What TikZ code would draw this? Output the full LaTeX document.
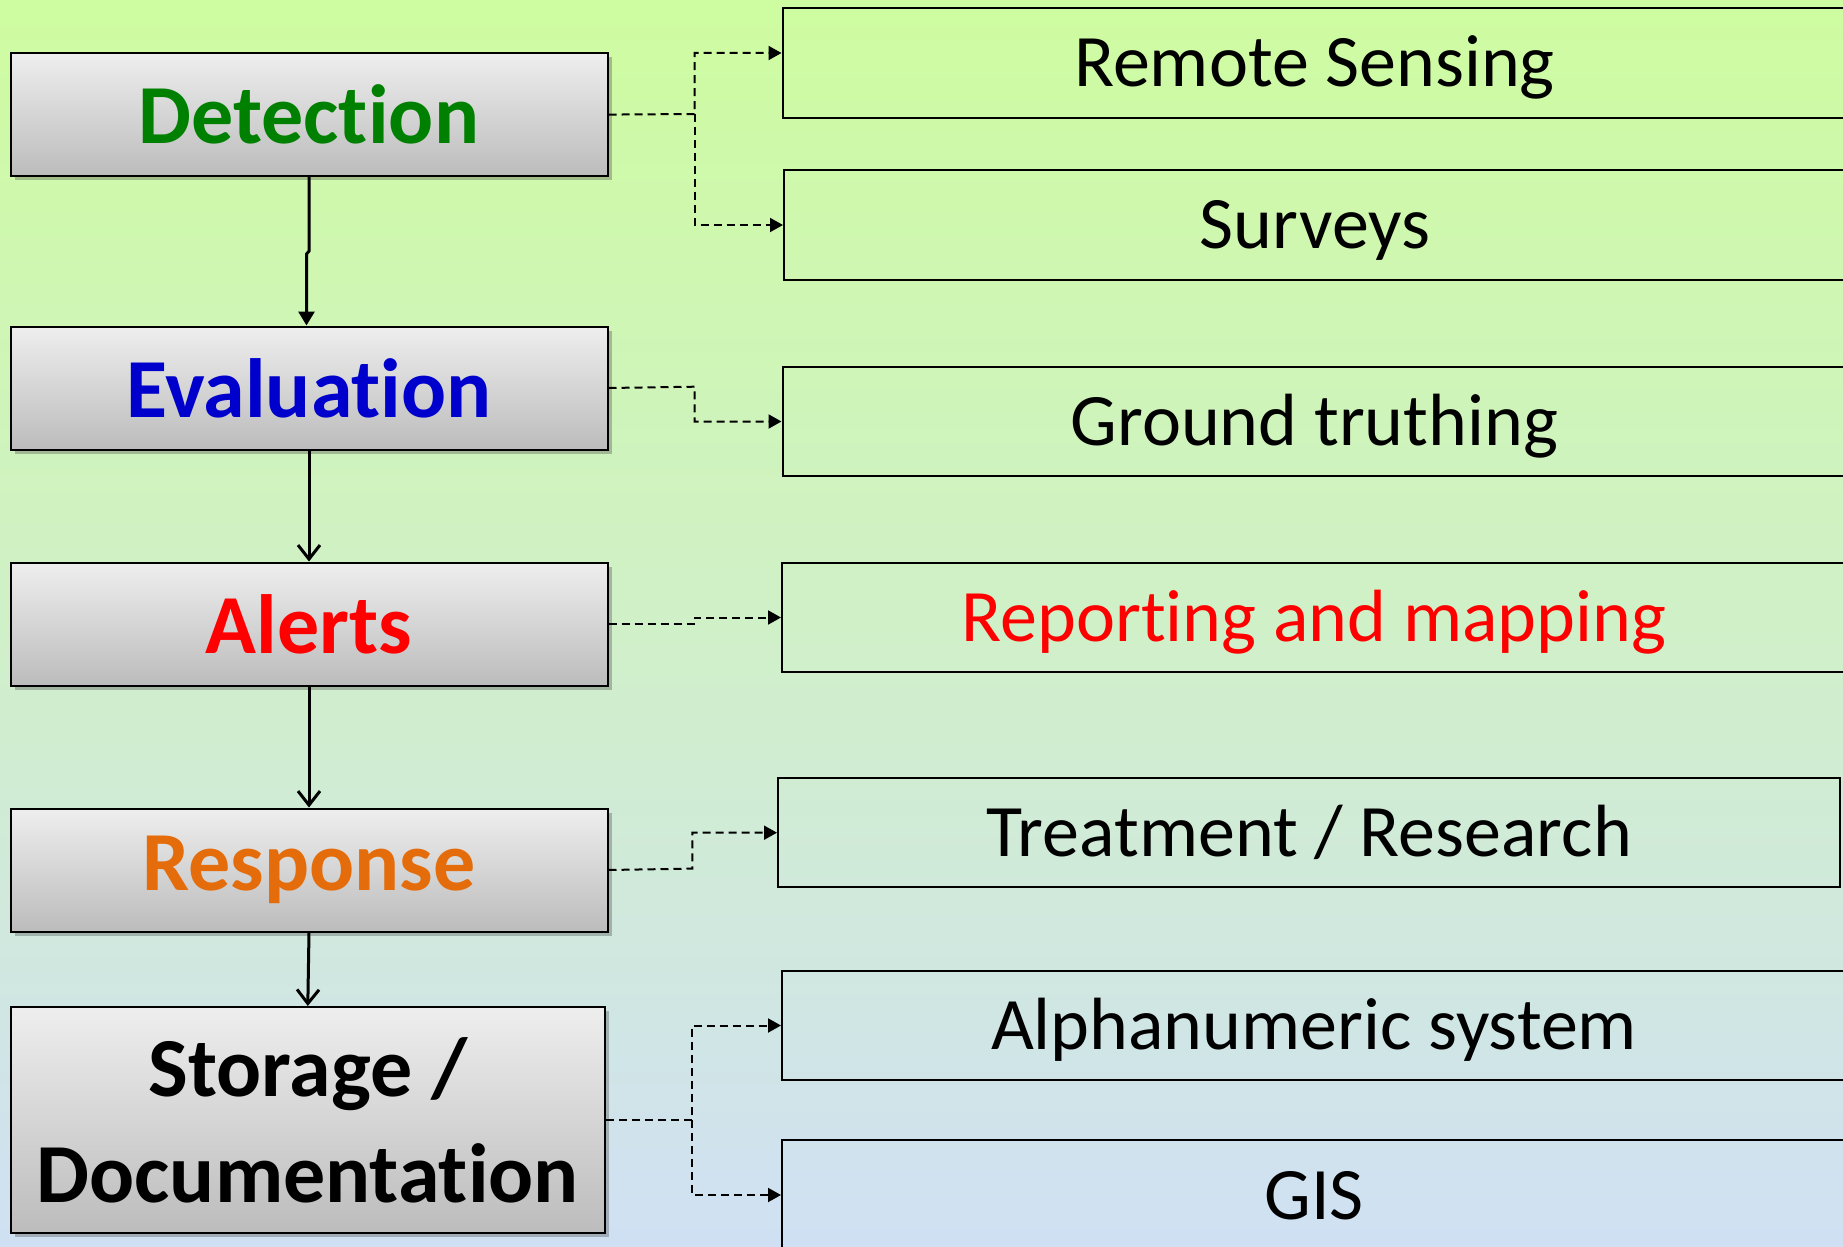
\documentclass[tikz,border=0pt]{standalone}
\usepackage{fontspec}
\setmainfont{Carlito}[Ligatures={NoCommon,NoContextual,NoRequired},Contextuals={NoAlternate}]
\usetikzlibrary{arrows.meta,shadows,calc}
\definecolor{bgtop}{RGB}{206,252,160}
\definecolor{bgmid}{RGB}{208,240,200}
\definecolor{bgbot}{RGB}{208,224,244}
\definecolor{boxtop}{RGB}{238,238,238}
\definecolor{boxbot}{RGB}{188,188,188}
\definecolor{cgreen}{RGB}{0,128,0}
\definecolor{cblue}{RGB}{0,0,204}
\definecolor{cred}{RGB}{255,0,0}
\definecolor{corange}{RGB}{228,108,10}
\tikzset{
  stagebox/.style={draw=black, line width=1pt, top color=boxtop, bottom color=boxbot,
    minimum width=298.5pt, minimum height=61.5pt, align=center, inner sep=0pt,
    font=\bfseries\fontsize{42}{53}\selectfont,
    drop shadow={shadow xshift=2pt, shadow yshift=-2pt, opacity=0.35, fill=black!70}},
  itembox/.style={draw=black, line width=1pt, minimum width=532pt, minimum height=54.75pt,
    inner sep=0pt, text height=30pt, text depth=6pt, font=\fontsize{37}{44}\selectfont},
  flow/.style={line width=1.5pt},
  link/.style={line width=1pt, dash pattern=on 4pt off 2.5pt, -{Triangle[length=6.5pt,width=7pt]}},
  openhead/.style={-{Straight Barb[length=7pt,width=11pt,line width=1.5pt]}},
  fullhead/.style={-{Triangle[length=7pt,width=8pt]}}
}
\begin{document}
\begin{tikzpicture}[x=0.5pt,y=-0.5pt]
\useasboundingbox (0,0) rectangle (1843,1247);
\shade[top color=bgtop, bottom color=bgbot, middle color=bgmid] (0,0) rectangle (1843,1247);

% left stages
\node[stagebox, text=cgreen] (det) at (309,114.6) {Detection};
\node[stagebox, text=cblue] (ev) at (309,388) {Evaluation};
\node[stagebox, text=cred] (al) at (309,624) {Alerts};
\node[stagebox, text=corange] (re) at (309,870) {Response};
\node[stagebox, minimum width=297.2pt, minimum height=113pt] (st) at (307.8,1120) {Storage /\\Documentation};

% right items
\node[itembox] (rs) at (1314.5,63) {Remote Sensing};
\node[itembox, minimum width=531pt] (su) at (1315,225) {Surveys};
\node[itembox] (gt) at (1314.5,421.5) {Ground truthing};
\node[itembox, text=cred] (rm) at (1314,617.5) {Reporting and mapping};
\node[itembox, minimum width=531pt] (tr) at (1309,832.7) {Treatment / Research};
\node[itembox] (an) at (1314,1025.5) {Alphanumeric system};
\node[itembox] (gis) at (1314,1195) {GIS};

% main flow
\draw[flow, fullhead] (det.south) -- ++(0,74) -- ++(-2.5,3) coordinate (jog) -- (jog |- ev.north);
\draw[flow, openhead] (ev.south) -- (al.north);
\draw[flow, openhead] (al.south) -- (re.north);
\draw[flow, openhead] (re.south) -- (st.north);

% dashed links
\coordinate (j1) at (694.7,114);
\draw[link] (det.east) -- (j1) |- ([yshift=5pt]rs.west);
\draw[link] (j1) |- (su.west);
\coordinate (j2) at (694.7,386.7);
\draw[link] (ev.east) -- (j2) |- (gt.west);
\coordinate (j3) at (694.7,624);
\draw[link] (al.east) -- (j3) |- (rm.west);
\coordinate (j4) at (692.3,868.6);
\draw[link] (re.east) -- (j4) |- (tr.west);
\coordinate (j5) at (692.3,1120);
\draw[link] (st.east) -- (j5) |- (an.west);
\draw[link] (j5) |- (gis.west);
\end{tikzpicture}
\end{document}
